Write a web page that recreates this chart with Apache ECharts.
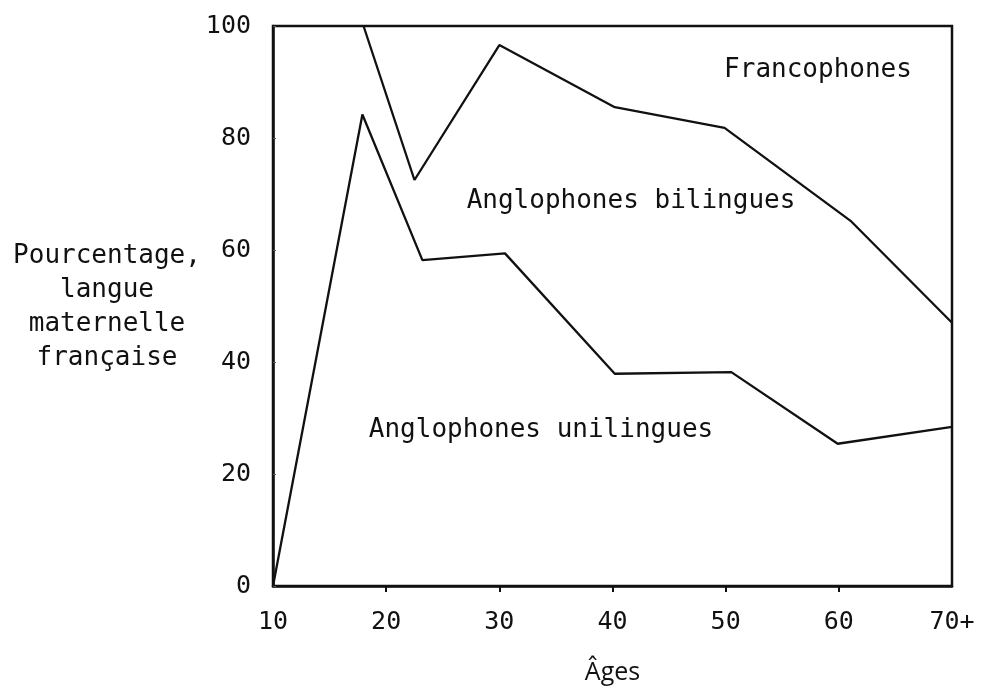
<!DOCTYPE html>
<html>
<head>
<meta charset="utf-8">
<script src="https://cdn.jsdelivr.net/npm/echarts@6/dist/echarts.min.js"></script>
<style>
html,body{margin:0;padding:0;background:#fff;}
#chart{width:982px;height:694px;}
</style>
</head>
<body>
<div id="chart"></div>
<script>
// Data
var xTicks = [10, 20, 30, 40, 50, 60, 70];
var xTickLabels = ['10', '20', '30', '40', '50', '60', '70+'];
var yTicks = [0, 20, 40, 60, 80, 100];

// Lower boundary: Anglophones unilingues / Anglophones bilingues
var lowerAges = [10, 17.9, 23.2, 30.5, 40.2, 50.5, 59.9, 70];
var lowerValues = [0, 84.2, 58.2, 59.4, 37.9, 38.2, 25.4, 28.4];

// Upper boundary: Anglophones bilingues / Francophones
var upperAges = [18, 22.5, 30, 40.2, 49.9, 61.1, 70];
var upperValues = [100, 72.5, 96.6, 85.5, 81.8, 65.1, 47];

var regionLabels = ['Francophones', 'Anglophones bilingues', 'Anglophones unilingues'];
var yAxisTitle = ['Pourcentage,', 'langue', 'maternelle', 'française'];
var xAxisTitle = 'Âges';

function pairs(xs, ys) {
  var out = [];
  for (var i = 0; i < xs.length; i++) out.push([xs[i], ys[i]]);
  return out;
}

var mono = "'DejaVu Sans Mono', 'Liberation Mono', monospace";
var chart = echarts.init(document.getElementById('chart'), null, {renderer: 'canvas'});

var option = {
  backgroundColor: '#ffffff',
  animation: false,
  grid: {
    left: 273, right: 30, top: 26, bottom: 108,
    show: true, borderColor: '#111', borderWidth: 2.5, backgroundColor: 'transparent'
  },
  xAxis: {
    type: 'value', min: 10, max: 70, interval: 10,
    axisLine: {show: true, lineStyle: {color: '#111', width: 2.5}},
    axisTick: {show: true, inside: false, length: 6, lineStyle: {color: '#111', width: 2},
      customValues: xTicks.slice(1, xTicks.length - 1)},
    splitLine: {show: false},
    axisLabel: {
      margin: 24, color: '#111', fontFamily: mono, fontSize: 25,
      formatter: function (v) {
        var i = xTicks.indexOf(v);
        return i >= 0 ? xTickLabels[i] : '';
      }
    },
    name: xAxisTitle, nameLocation: 'middle', nameGap: 74,
    nameTextStyle: {color: '#111', fontFamily: "'Open Sans', 'Noto Sans', sans-serif", fontSize: 25}
  },
  yAxis: {
    type: 'value', min: 0, max: 100, interval: 20,
    axisLine: {show: true, lineStyle: {color: '#111', width: 2.5}},
    axisTick: {show: true, inside: true, length: 3, lineStyle: {color: '#555', width: 1}},
    splitLine: {show: false},
    axisLabel: {margin: 22, color: '#111', fontFamily: mono, fontSize: 25}
  },
  series: [
    {
      type: 'line', data: pairs(lowerAges, lowerValues), symbol: 'none',
      lineStyle: {color: '#111', width: 2.3}, z: 3
    },
    {
      type: 'line', data: pairs(upperAges, upperValues), symbol: 'none',
      lineStyle: {color: '#111', width: 2.3}, z: 3
    }
  ],
  graphic: [
    {type: 'text', style: {x: 818, y: 70, text: regionLabels[0], textAlign: 'center', textVerticalAlign: 'middle',
      font: '26px ' + mono, fill: '#111'}},
    {type: 'text', style: {x: 631, y: 201, text: regionLabels[1], textAlign: 'center', textVerticalAlign: 'middle',
      font: '26px ' + mono, fill: '#111'}},
    {type: 'text', style: {x: 541, y: 430, text: regionLabels[2], textAlign: 'center', textVerticalAlign: 'middle',
      font: '26px ' + mono, fill: '#111'}},
    {type: 'text', style: {x: 107, y: 239, text: yAxisTitle.join('\n'), textAlign: 'center', textVerticalAlign: 'top',
      lineHeight: 34, font: '26px ' + mono, fill: '#111'}}
  ]
};
chart.setOption(option);
</script>
</body>
</html>
